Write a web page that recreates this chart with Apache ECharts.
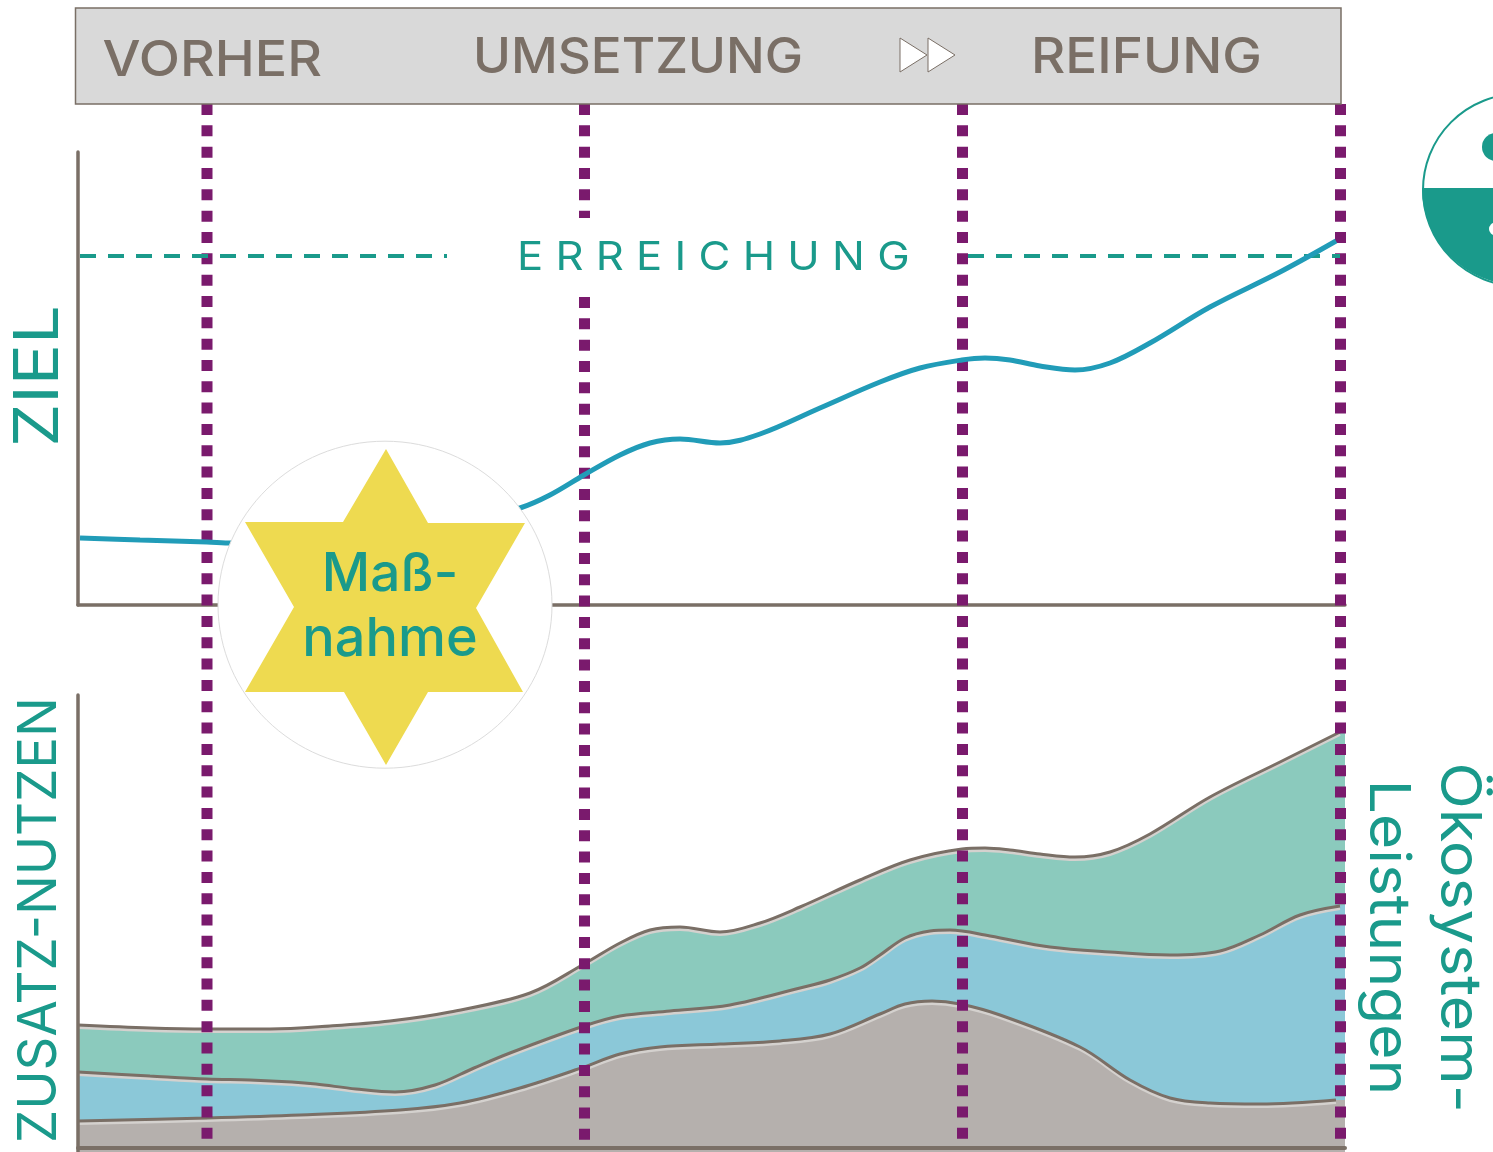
<!DOCTYPE html>
<html>
<head>
<meta charset="UTF-8">
<title>Ziel und Zusatz-Nutzen</title>
<script src="https://cdn.jsdelivr.net/npm/echarts@6/dist/echarts.min.js"></script>
<style>
html,body{margin:0;padding:0;background:#fff;}
#main{width:1493px;height:1152px;}
</style>
</head>
<body>
<div id="main"></div>
<script type="text/javascript">
// phase borders on the shared x scale
var phaseX = [207, 584.5, 962.5, 1340.5];
var phaseLabels = ['VORHER', 'UMSETZUNG', 'REIFUNG'];

// ziel line, [x, height above axis]
var zielLine = [[80,67],[140,65],[207,63],[232,62],[300,65],[400,75],[480,88],[520,97],[550,110],[584,130],[620,150],[650,162],[680,166],[720,162],[760,171],[820,197],[880,223],[920,237],[962,245],[985,247],[1010,245],[1040,239],[1075,235],[1110,242],[1150,262],[1210,298],[1280,333],[1336,364]];
var zielTarget = 349;

// upper edges of the three bands, [x, height above axis]
var okoTop = [[78,123],[150,120],[207,119],[270,119],[330,122],[390,127],[450,136],[530,155],[584,184],[620,205],[650,218],[680,221],[720,216],[760,225],[800,241],[860,268],[910,288],[962,299],[985,300],[1010,298],[1040,294],[1075,291],[1110,296],[1150,314],[1210,351],[1280,386],[1340,416]];
var okoMid = [[78,76],[150,72],[207,69],[250,68],[292,66],[316,64],[356,59],[395,56],[435,63],[474,80],[510,95],[584,122],[620,132],[670,137],[730,143],[800,160],[830,168],[860,180],[880,193],[905,210],[930,217],[950,218],[990,212],[1050,201],[1110,196],[1170,193],[1220,197],[1260,213],[1300,233],[1340,242]];
var okoLow = [[78,27],[207,30],[300,33],[400,38],[460,45],[520,60],[584,81],[620,94],[660,101],[720,104],[780,107],[830,114],[880,134],[905,144],[932,147],[960,144],[1000,133],[1080,101],[1130,68],[1170,50],[1210,45],[1260,44],[1336,48]];
// where the fills stop, just past the drawn edges
var fillEnd = [[1345,418],[1345,243],[1345,48]];

var teal = '#1a9a8b', taupe = '#7a6f66', purple = '#7a1a6d';
var font = 'Inter, "Noto Sans", sans-serif';

function band(data, end, fill){
	return [{
		type:'line', xAxisIndex:1, yAxisIndex:1, data:data.concat([end]), smooth:0.35, showSymbol:false, z:2,
		lineStyle:{width:0}, areaStyle:{color:fill, opacity:1, origin:'start'}, silent:true
	},{
		type:'line', xAxisIndex:1, yAxisIndex:1, data:data, smooth:0.35, showSymbol:false, z:2,
		lineStyle:{width:3, color:taupe, shadowColor:'#d4d1ce', shadowOffsetY:2.5, shadowBlur:0}, silent:true
	}];
}
function phaseLine(x, from, to){
	return {
		type:'line', xAxisIndex:2, yAxisIndex:2, data:[[x,from],[x,to]], showSymbol:false, z:3, clip:false,
		lineStyle:{width:11, color:purple, type:[11,10.33]}, silent:true
	};
}
function rotText(t, x, y, size, rot, sx){
	return {type:'text', x:x, y:y, rotation:rot, scaleX:sx, z:50, silent:true,
		style:{text:t, fill:teal, font:size+'px '+font, textAlign:'center', textVerticalAlign:'middle'}};
}
function headText(t, x, y, sx){
	return {type:'text', x:x, y:y, scaleX:sx, z:50, silent:true,
		style:{text:t, fill:taupe, font:'500 50px '+font, textAlign:'left', textVerticalAlign:'middle'}};
}

var series = [];
series = series.concat(band(okoTop, fillEnd[0], '#8bcabd'));
series = series.concat(band(okoMid, fillEnd[1], '#8bc8d8'));
series = series.concat(band(okoLow, fillEnd[2], '#b5b0ad'));
series.push(phaseLine(phaseX[0],104,1140));
series.push(phaseLine(phaseX[1],104,218));
series.push(phaseLine(phaseX[1],297,1140));
series.push(phaseLine(phaseX[2],104,1140));
series.push(phaseLine(phaseX[3],104,1140));
series.push({type:'line', xAxisIndex:0, yAxisIndex:0, data:[[80,zielTarget],[447,zielTarget]], showSymbol:false, z:4,
	lineStyle:{width:4, color:teal, type:[16,12]}, silent:true});
series.push({type:'line', xAxisIndex:0, yAxisIndex:0, data:[[968,zielTarget],[1340,zielTarget]], showSymbol:false, z:4,
	lineStyle:{width:4, color:teal, type:[16,12]}, silent:true});
series.push({type:'line', xAxisIndex:0, yAxisIndex:0, data:zielLine, smooth:0.35, showSymbol:false, z:5,
	lineStyle:{width:5, color:'#219cb8'}, silent:true});

function xAx(i){
	return {type:'value', gridIndex:i, min:78, max:1345, show:i<2, z:i==1?6:1, splitLine:{show:false},
		axisLabel:{show:false}, axisTick:{show:false},
		axisLine:{show:true, onZero:true, lineStyle:{color:taupe, width:i==1?4:3.5}}};
}

var myChart = echarts.init(document.getElementById('main'), null, {renderer:'canvas'});
var option = {
	animation:false,
	backgroundColor:'#fff',
	grid:[
		{left:78, top:152, width:1267, height:453},
		{left:78, top:695, width:1267, height:457},
		{left:78, top:104, width:1267, height:1036}
	],
	xAxis:[xAx(0), xAx(1), xAx(2)],
	yAxis:[
		{type:'value', gridIndex:0, min:0, max:453, z:1, splitLine:{show:false}, axisLabel:{show:false}, axisTick:{show:false},
			axisLine:{show:true, lineStyle:{color:taupe, width:3.5}}},
		{type:'value', gridIndex:1, min:-4, max:453, z:6, splitLine:{show:false}, axisLabel:{show:false}, axisTick:{show:false},
			axisLine:{show:true, lineStyle:{color:taupe, width:3.5}}},
		{type:'value', gridIndex:2, min:104, max:1140, inverse:true, show:false}
	],
	series:series,
	graphic:[
		// header
		{type:'rect', z:40, silent:true, shape:{x:75.5,y:8,width:1265.5,height:96}, style:{fill:'#d9d9d9', stroke:taupe, lineWidth:1.5}},
		headText(phaseLabels[0], 102.5, 61, 1.075),
		headText(phaseLabels[1], 473, 58, 1.025),
		headText(phaseLabels[2], 1031, 57.5, 1.06),
		{type:'polygon', z:45, silent:true, shape:{points:[[900,38],[927,55],[900,72]]}, style:{fill:'#fff', stroke:taupe, lineWidth:1}},
		{type:'polygon', z:45, silent:true, shape:{points:[[928,38],[955,55],[928,72]]}, style:{fill:'#fff', stroke:taupe, lineWidth:1}},
		// erreichung label
		{type:'text', x:517, y:258, scaleX:1.09, z:50, silent:true, style:{text:'E R R E I C H U N G', fill:teal, font:'40px '+font, textAlign:'left', textVerticalAlign:'middle'}},
		// massnahme badge
		{type:'ellipse', z:30, silent:true, shape:{cx:385,cy:604.7,rx:167,ry:163.5}, style:{fill:'#fff', stroke:'#dcdcdc', lineWidth:1}},
		{type:'polygon', z:31, silent:true, shape:{points:[[386,449],[428,523],[525,523],[476,608],[523,692],[428,692],[386,765],[344,692],[245,692],[294,607],[245,522],[343,522]]}, style:{fill:'#eeda50'}},
		{type:'text', x:390, y:575, z:50, silent:true, style:{text:'Maß-', fill:teal, font:'500 53px '+font, textAlign:'center', textVerticalAlign:'middle'}},
		{type:'text', x:390, y:640, z:50, silent:true, style:{text:'nahme', fill:teal, font:'500 54px '+font, textAlign:'center', textVerticalAlign:'middle'}},
		// side labels
		rotText('ZIEL', 39, 376, 62, Math.PI/2, 1.107),
		rotText('ZUSATZ-NUTZEN', 40, 920, 54, Math.PI/2, 0.978),
		rotText('Ökosystem-', 1458, 937.5, 56, -Math.PI/2, 1.09),
		rotText('Leistungen', 1387, 937.5, 56, -Math.PI/2, 1.08),
		// cut off badge at the right edge
		{type:'circle', z:30, silent:true, shape:{cx:1519,cy:190,r:96}, style:{fill:'#fff', stroke:teal, lineWidth:2}},
		{type:'sector', z:31, silent:true, shape:{cx:1519,cy:188,r:97,r0:0,startAngle:0,endAngle:Math.PI}, style:{fill:teal}},
		{type:'circle', z:32, silent:true, shape:{cx:1496,cy:147,r:14}, style:{fill:teal}},
		{type:'circle', z:32, silent:true, shape:{cx:1495.5,cy:229,r:6.5}, style:{fill:'#fff'}}
	]
};
myChart.setOption(option);
</script>
</body>
</html>
